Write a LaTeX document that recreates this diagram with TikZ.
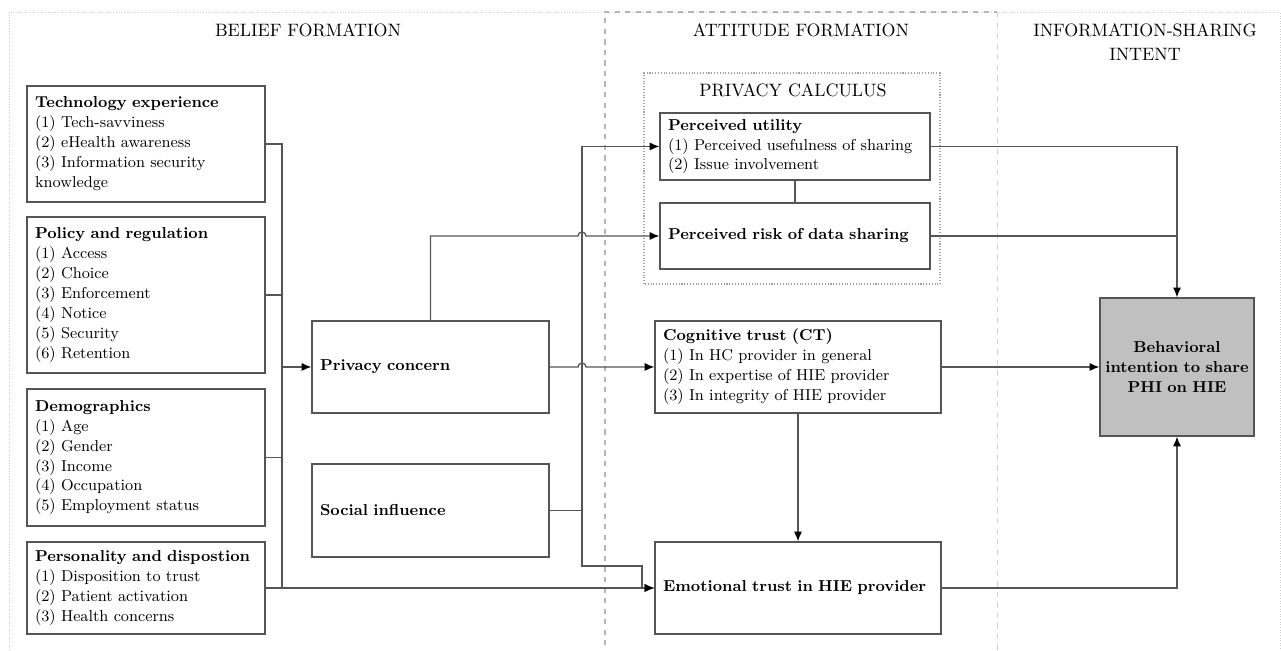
\documentclass[tikz,border=0pt]{standalone}
\usepackage{tikz}
\usetikzlibrary{arrows.meta,calc}
\definecolor{linecol}{HTML}{555555}
\definecolor{boxfill}{HTML}{C0C0C0}
\definecolor{framegray}{HTML}{CFCFCF}
\definecolor{dashgray}{HTML}{B5B5B5}
\definecolor{dotgray}{HTML}{A0A0A0}

\begin{document}
\begin{tikzpicture}[
      x = 0.02cm,
      y = 0.02cm,
      > = {Latex[length=5.5pt, width=4.6pt, color=black]},
      line width = 0.75pt]
      \tikzstyle{box}=[
      draw = linecol,
      fill = white,
      inner xsep = 0.16cm,
      inner ysep = 0pt,
      font = \fontsize{9}{11.38}\selectfont,
      align = left]
      \tikzstyle{head}=[
      font = \fontsize{10.2}{13.66}\selectfont,
      align = center]
      \tikzstyle{link}=[draw = linecol]

      \useasboundingbox (0,0) rectangle (1281,651);

      % frames of the three stages
      \draw[framegray, densely dotted, line width=0.5pt] (9,-5) rectangle (1280,639);
      \draw[dashgray, dashed, line width=0.6pt] (605,-5) -- (605,639) -- (997,639);
      \draw[framegray, dashed, line width=0.5pt] (997,639) -- (997,-5);
      \draw[dotgray, densely dotted, line width=0.6pt] (644,367) rectangle (940,578);

      \node[head] (hb) at (308,621) {BELIEF FORMATION};
      \node[head] (ha) at (801,621) {ATTITUDE FORMATION};
      \node[head] (hi) at (1145,609) {INFORMATION-SHARING\\INTENT};
      \node[head] (hc) at (793,561) {PRIVACY CALCULUS};

      % belief formation
      \node[box, text width=4.44cm, minimum height=2.32cm] (tech) at (146,507)
        {\textbf{Technology experience}\\(1) Tech-savviness\\(2) eHealth awareness\\(3) Information security\\knowledge};
      \node[box, text width=4.44cm, minimum height=3.12cm] (pol) at (146,356)
        {\textbf{Policy and regulation}\\(1) Access\\(2) Choice\\(3) Enforcement\\(4) Notice\\(5) Security\\(6) Retention};
      \node[box, text width=4.44cm, minimum height=2.74cm] (dem) at (146,193.5)
        {\textbf{Demographics}\\(1) Age\\(2) Gender\\(3) Income\\(4) Occupation\\(5) Employment status};
      \node[box, text width=4.44cm, minimum height=1.84cm] (pers) at (146,63)
        {\textbf{Personality and dispostion}\\(1) Disposition to trust\\(2) Patient activation\\(3) Health concerns};
      \node[box, text width=4.42cm, minimum height=1.84cm] (pc) at (430.5,284)
        {\textbf{Privacy concern}};
      \node[box, text width=4.42cm, minimum height=1.86cm] (si) at (430.5,140.5)
        {\textbf{Social influence}};

      % attitude formation
      \node[box, text width=5.08cm, minimum height=1.34cm] (pu) at (795,504.5)
        {\textbf{Perceived utility}\\(1) Perceived usefulness of sharing\\(2) Issue involvement};
      \node[box, text width=5.08cm, minimum height=1.32cm] (pr) at (795,415)
        {\textbf{Perceived risk of data sharing}};
      \node[box, text width=5.40cm, minimum height=1.84cm] (ct) at (798,284)
        {\textbf{Cognitive trust (CT)}\\(1) In HC provider in general\\(2) In expertise of HIE provider\\(3) In integrity of HIE provider};
      \node[box, text width=5.40cm, minimum height=1.84cm] (et) at (798,63)
        {\textbf{Emotional trust in HIE provider}};

      % intent
      \node[box, fill=boxfill, inner xsep=0.09cm, text width=2.9cm, align=center, minimum height=2.76cm] (bi) at (1177,284)
        {\textbf{Behavioral}\\\textbf{intention to share}\\\textbf{PHI on HIE}};

      \coordinate (bus) at (282,0);
      \coordinate (sbus) at (582,0);
      \coordinate (k) at (642,85);
      \coordinate (x1) at (sbus |- pr.west);
      \coordinate (x2) at (sbus |- ct.west);

      \draw[link] (tech.east) -- (tech.east -| bus) -- (pers.east -| bus);
      \draw[link] (pol.east) -- (pol.east -| bus);
      \draw[link] (dem.east) -- (dem.east -| bus);
      \draw[link, ->] (pc.west -| bus) -- (pc.west);
      \draw[link, ->] (pers.east) -- (et.west);
      \draw[link, ->] (si.east) -- (si.east -| sbus) |- (pu.west);
      \draw[link, ->] (si.east -| sbus) |- (k) |- (et.west);
      \draw[link, ->] (pc.north) |- ($(x1)+(-4,0)$) arc[start angle=180, end angle=0, radius=0.08cm] -- (pr.west);
      \draw[link, ->] (pc.east) -- ($(x2)+(-4,0)$) arc[start angle=180, end angle=0, radius=0.08cm] -- (ct.west);
      \draw[link] (pu.south) -- (pr.north);
      \draw[link, ->] (ct.south) -- (et.north);
      \draw[link, ->] (pu.east) -| (bi.north);
      \draw[link] (pr.east) -- (pr.east -| bi.north);
      \draw[link, ->] (ct.east) -- (bi.west);
      \draw[link, ->] (et.east) -| (bi.south);
\end{tikzpicture}
\end{document}
